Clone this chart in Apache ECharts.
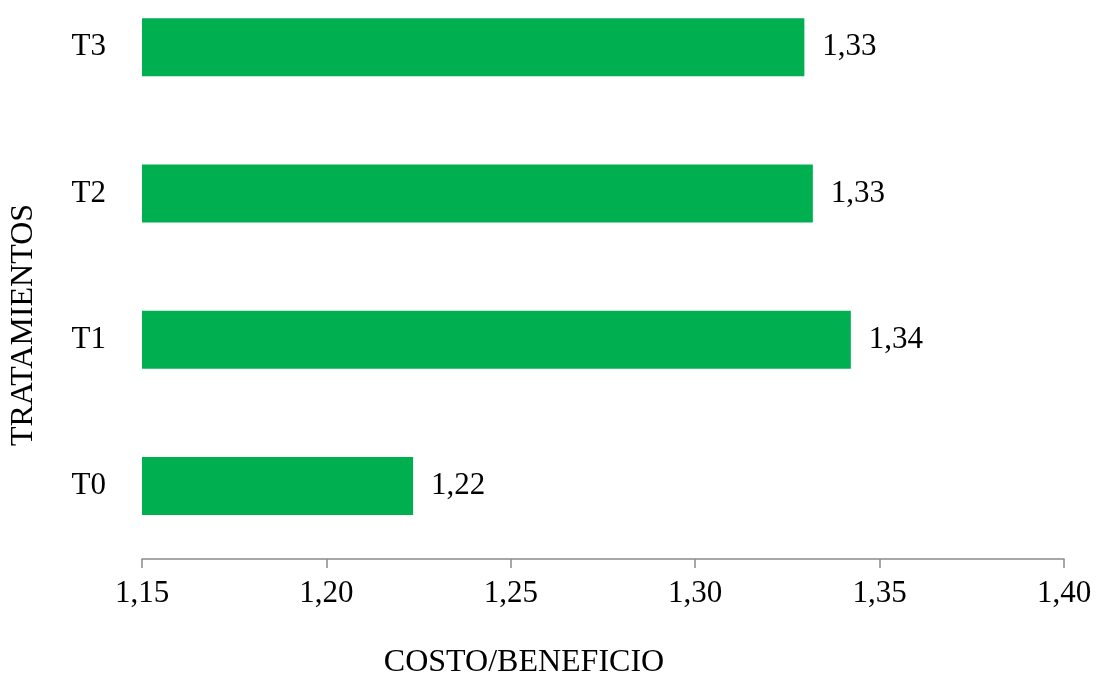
<!DOCTYPE html>
<html>
<head>
<meta charset="utf-8">
<script src="https://cdn.jsdelivr.net/npm/echarts@6/dist/echarts.min.js"></script>
<style>
  html, body { margin: 0; padding: 0; background: #fff; overflow: hidden; }
  /* the top band of the original is cut off, so the canvas starts above the window */
  #chart { width: 1096px; height: 706px; margin-top: -26px; }
</style>
</head>
<body>
<div id="chart"></div>
<script>
const categories = ['T0', 'T1', 'T2', 'T3']
const costoBeneficio = [1.2235, 1.3422, 1.3319, 1.3296]
const xMin = 1.15
const xMax = 1.40
const xStep = 0.05

const fmt = v => v.toFixed(2).replace('.', ',')
const font = "'Liberation Serif', 'Times New Roman', serif"

const chart = echarts.init(document.getElementById('chart'))
const option = {
  animation: false,
  textStyle: { fontFamily: font },
  grid: {
    left: 142,
    right: 32,
    top: 0,
    bottom: 121,
    outerBoundsMode: 'none'
  },
  xAxis: {
    type: 'value',
    min: xMin,
    max: xMax,
    interval: xStep,
    name: 'COSTO/BENEFICIO',
    nameLocation: 'middle',
    nameGap: 88,
    nameTextStyle: { fontFamily: font, fontSize: 32, color: '#000', padding: [0, 158, 0, 0] },
    axisLine: { show: true, lineStyle: { color: '#8c8c8c', width: 1.5 } },
    axisTick: { show: true, length: 9, lineStyle: { color: '#8c8c8c', width: 1.5 } },
    axisLabel: {
      margin: 19,
      fontFamily: font,
      fontSize: 31,
      color: '#000',
      formatter: v => fmt(v)
    },
    splitLine: { show: false }
  },
  yAxis: {
    type: 'category',
    data: categories,
    name: 'TRATAMIENTOS',
    nameLocation: 'middle',
    nameGap: 102,
    nameTextStyle: { fontFamily: font, fontSize: 32, color: '#000', padding: [0, 117, 0, 0] },
    axisLine: { show: false },
    axisTick: { show: false },
    axisLabel: { margin: 36, fontFamily: font, fontSize: 31, color: '#000' },
    splitLine: { show: false }
  },
  series: [
    {
      type: 'bar',
      data: costoBeneficio,
      barWidth: 58,
      itemStyle: { color: '#00b050' },
      label: {
        show: true,
        position: 'right',
        distance: 18,
        fontFamily: font,
        fontSize: 31,
        color: '#000',
        formatter: p => fmt(p.value)
      }
    }
  ]
}
chart.setOption(option)
</script>
</body>
</html>
